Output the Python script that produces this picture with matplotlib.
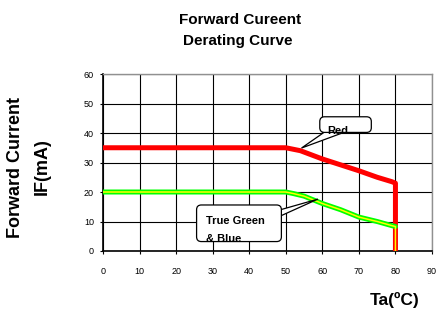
import matplotlib
matplotlib.use("Agg")
import matplotlib.pyplot as plt
from matplotlib.patches import FancyBboxPatch, Polygon

plt.rcParams['font.family'] = ['Liberation Sans', 'DejaVu Sans']

# ---- data ----
red_x = [0, 50, 52, 54, 60, 65, 70, 75, 79, 80, 80]
red_y = [35, 35, 34.5, 34, 31.2, 29.2, 27.2, 25, 23.5, 23, 0]
green_x = [0, 50, 52, 55, 60, 65, 70, 75, 79, 80, 80]
green_y = [20, 20, 19.5, 18.6, 16.1, 14, 11.5, 10, 8.6, 8.3, 0]
x_ticks = [0, 10, 20, 30, 40, 50, 60, 70, 80, 90]
y_ticks = [0, 10, 20, 30, 40, 50, 60]

W, H = 436, 310
fig = plt.figure(figsize=(W / 100, H / 100), dpi=100)
ax = fig.add_axes([103 / W, 1 - 251 / H, (432 - 103) / W, (251 - 74) / H])
ax.set_xlim(0, 90)
ax.set_ylim(0, 60)
ax.set_xticks(x_ticks)
ax.set_yticks(y_ticks)
ax.grid(True, color='black', linewidth=0.8, zorder=0)
ax.set_axisbelow(True)
ax.tick_params(axis='both', labelsize=6.5, length=2.5, width=0.8, direction='out')
ax.tick_params(axis='x', pad=9)
ax.tick_params(axis='y', pad=4)
for s in ['left', 'bottom']:
    ax.spines[s].set_color('black')
    ax.spines[s].set_linewidth(1.2)
for s in ['top', 'right']:
    ax.spines[s].set_color('#909090')
    ax.spines[s].set_linewidth(1.0)

# red curve
ax.plot(red_x, red_y, color='#ff0000', linewidth=3.6, solid_joinstyle='round',
        solid_capstyle='butt', zorder=3)
# green curve (outer green until the drop, yellow centre all the way)
ax.plot(green_x[:-1], green_y[:-1], color='#00ff00', linewidth=3.6,
        solid_joinstyle='round', solid_capstyle='round', zorder=4)
ax.plot(green_x, green_y, color='#ffff00', linewidth=1.1,
        solid_joinstyle='round', solid_capstyle='butt', zorder=5)

# ---- callouts ----
asp = 3.66 / 2.95

def callout(x0, y0, x1, y1, base1, base2, tip):
    wedge = Polygon([base1, tip, base2], closed=True, facecolor='white',
                    edgecolor='black', linewidth=0.9, zorder=6, clip_on=False)
    ax.add_patch(wedge)
    box = FancyBboxPatch((x0, y0), x1 - x0, y1 - y0,
                         boxstyle="round,pad=0,rounding_size=1.3",
                         mutation_aspect=asp, facecolor='white',
                         edgecolor='black', linewidth=0.9, zorder=7, clip_on=False)
    ax.add_patch(box)

callout(59.3, 40.2, 73.4, 45.5, (60.8, 40.5), (66.1, 40.3), (54.3, 34.9))
ax.text(64.1, 40.7, 'Red', fontsize=8, fontweight='bold', ha='center', va='center', zorder=8)

callout(25.6, 3.2, 48.8, 15.6, (48.3, 13.9), (48.6, 11.9), (58.8, 17.6))
ax.text(28.1, 10.2, 'True Green', fontsize=8, fontweight='bold', ha='left', va='center', zorder=8)
ax.text(28.1, 4.1, '& Blue', fontsize=8, fontweight='bold', ha='left', va='center', zorder=8)

# ---- texts ----
fig.text(240 / W, 1 - 20 / H, 'Forward Cureent', fontsize=11, fontweight='bold',
         ha='center', va='center')
fig.text(238 / W, 1 - 41 / H, 'Derating Curve', fontsize=11, fontweight='bold',
         ha='center', va='center')
fig.text(16 / W, 1 - 167 / H, 'Forward Current', fontsize=13, fontweight='bold',
         ha='center', va='center', rotation=90)
fig.text(42 / W, 1 - 167 / H, 'IF(mA)', fontsize=13, fontweight='bold',
         ha='center', va='center', rotation=90)
fig.text(395 / W, 1 - 300 / H, 'Ta(ºC)', fontsize=12.5, fontweight='bold',
         ha='center', va='center')

fig.savefig('out.png', dpi=100)
